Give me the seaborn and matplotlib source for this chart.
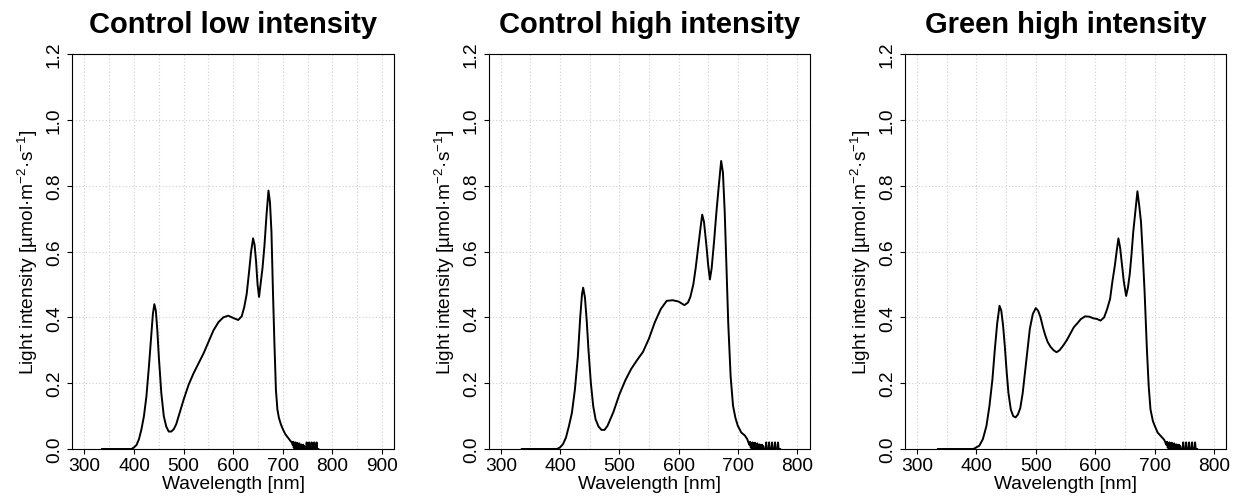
import matplotlib
matplotlib.use("Agg")
import matplotlib.pyplot as plt
from matplotlib.ticker import MultipleLocator
import pandas as pd
import seaborn as sns

# Panel titles and x-limits
TITLES = ["Control low intensity", "Control high intensity", "Green high intensity"]
XLIMS = [(275, 924), (280, 822), (280, 820)]
XTICKS = [list(range(300, 901, 100)), list(range(300, 801, 100)), list(range(300, 801, 100))]

# Spectra (nm, umol m-2 s-1)
CLI_NM = [335, 395, 400, 405, 410, 415, 420, 425, 430, 435, 438, 441, 444, 447, 450,
          455, 460, 465, 470, 475, 480, 485, 490, 500, 510, 520, 530, 540, 550, 560,
          570, 580, 590, 600, 610, 617, 622, 627, 632, 636, 640, 643, 646, 649, 652,
          655, 659, 663, 667, 671, 674, 677, 680, 683, 686, 689, 692, 696, 700, 705,
          710, 715]
CLI_VAL = [0, 0, 0.005, 0.012, 0.03, 0.06, 0.10, 0.16, 0.25, 0.35, 0.41, 0.44, 0.42, 0.36, 0.28,
           0.17, 0.10, 0.068, 0.053, 0.053, 0.06, 0.075, 0.10, 0.15, 0.195, 0.23, 0.26, 0.29, 0.325, 0.36,
           0.385, 0.40, 0.405, 0.398, 0.392, 0.403, 0.43, 0.47, 0.54, 0.60, 0.64, 0.62, 0.57, 0.50, 0.462,
           0.50, 0.55, 0.62, 0.71, 0.785, 0.75, 0.66, 0.48, 0.32, 0.18, 0.12, 0.095, 0.075, 0.06, 0.045,
           0.035, 0.025]

CHI_NM = [335, 395, 400, 405, 410, 415, 420, 425, 430, 434, 437, 439, 442, 445, 448,
          452, 456, 460, 465, 470, 475, 480, 490, 500, 510, 520, 530, 540, 550, 560,
          570, 580, 590, 600, 610, 616, 620, 625, 629, 633, 637, 640, 643, 647, 650,
          653, 656, 660, 664, 668, 672, 675, 678, 681, 684, 688, 692, 696, 700, 706,
          712, 716]
CHI_VAL = [0, 0, 0.005, 0.015, 0.035, 0.07, 0.11, 0.18, 0.28, 0.40, 0.47, 0.49, 0.46, 0.39, 0.30,
           0.20, 0.13, 0.09, 0.068, 0.058, 0.058, 0.07, 0.112, 0.165, 0.208, 0.243, 0.27, 0.295, 0.335, 0.385,
           0.425, 0.45, 0.452, 0.448, 0.437, 0.445, 0.462, 0.50, 0.55, 0.61, 0.67, 0.712, 0.69, 0.62, 0.56,
           0.515, 0.55, 0.63, 0.72, 0.80, 0.875, 0.84, 0.72, 0.55, 0.38, 0.22, 0.132, 0.095, 0.071, 0.05,
           0.041, 0.03]

GHI_NM = [335, 395, 400, 405, 411, 417, 422, 427, 431, 435, 439, 442, 445, 448, 451,
          454, 458, 462, 466, 470, 474, 478, 482, 486, 490, 495, 500, 504, 508, 512,
          516, 520, 525, 530, 535, 540, 546, 552, 558, 564, 570, 576, 583, 590, 597,
          603, 609, 615, 620, 625, 629, 633, 636, 639, 642, 645, 648, 652, 655, 658,
          661, 664, 668, 671, 674, 677, 680, 683, 687, 690, 693, 697, 700, 705, 710,
          716]
GHI_VAL = [0, 0, 0.005, 0.01, 0.03, 0.07, 0.13, 0.21, 0.30, 0.38, 0.435, 0.42, 0.375, 0.31, 0.235,
           0.17, 0.12, 0.10, 0.096, 0.105, 0.125, 0.17, 0.235, 0.30, 0.365, 0.41, 0.428, 0.42, 0.40, 0.37,
           0.345, 0.325, 0.31, 0.30, 0.294, 0.30, 0.314, 0.33, 0.35, 0.37, 0.382, 0.395, 0.403, 0.402, 0.397,
           0.395, 0.39, 0.40, 0.425, 0.456, 0.51, 0.557, 0.60, 0.64, 0.61, 0.56, 0.51, 0.465, 0.49, 0.53,
           0.59, 0.66, 0.73, 0.783, 0.74, 0.69, 0.59, 0.48, 0.30, 0.19, 0.12, 0.085, 0.071, 0.05, 0.04,
           0.028]

# noisy tail of the spectrometer, same look in all three panels
TAIL_NM = [718, 720, 721, 722, 723, 724, 725, 726, 727, 728, 729, 730, 731, 732, 733,
           734, 735, 736, 737, 738, 739, 740, 741, 742, 743, 744, 745, 747, 748, 749,
           752, 753, 754, 757, 758, 759, 762, 763, 764, 767, 768, 769, 772]
TAIL_VAL = [0.02, 0.012, 0.022, 0.004, 0.018, 0.002, 0.02, 0.006, 0.016, 0.0, 0.019, 0.003, 0.015, 0.0, 0.017,
            0.002, 0.012, 0.0, 0.014, 0.0, 0.01, 0.0, 0.013, 0.0, 0.009, 0.0, 0.0, 0.0, 0.02, 0.0,
            0.0, 0.02, 0.0, 0.0, 0.02, 0.0, 0.0, 0.02, 0.0, 0.0, 0.02, 0.0, 0.0]

SPECTRA = [(CLI_NM, CLI_VAL), (CHI_NM, CHI_VAL), (GHI_NM, GHI_VAL)]

sns.set_theme(style="ticks")
plt.rcParams["font.family"] = ["Liberation Sans", "DejaVu Sans"]
plt.rcParams["mathtext.fontset"] = "custom"
plt.rcParams["mathtext.rm"] = "Liberation Sans"
plt.rcParams["mathtext.it"] = "Liberation Sans:italic"
plt.rcParams["mathtext.bf"] = "Liberation Sans:bold"
plt.rcParams["text.color"] = "black"
plt.rcParams["axes.labelcolor"] = "black"

fig = plt.figure(figsize=(12.39, 5.02), dpi=100)
W, H = 1239, 502
lefts = [72, 489, 905]
widths = [322, 321, 321]
top, bottom = 55, 450

for i, (nm, val) in enumerate(SPECTRA):
    ax = fig.add_axes([lefts[i] / W, (H - bottom) / H, widths[i] / W, (bottom - top) / H])
    df = pd.DataFrame({"wavelength": nm + TAIL_NM, "intensity": val + TAIL_VAL})
    sns.lineplot(data=df, x="wavelength", y="intensity", ax=ax, color="black",
                 linewidth=1.4, estimator=None, sort=False)

    ax.set_xlim(*XLIMS[i])
    ax.set_ylim(0, 1.2)
    ax.set_xticks(XTICKS[i])
    ax.xaxis.set_minor_locator(MultipleLocator(50))
    ax.set_yticks([0, 0.2, 0.4, 0.6, 0.8, 1.0, 1.2])
    ax.set_yticklabels([f"{v:.1f}" for v in [0, 0.2, 0.4, 0.6, 0.8, 1.0, 1.2]])

    ax.grid(True, which="both", axis="x", color="#cfcfcf", linestyle=(0, (1, 2)), linewidth=0.8)
    ax.grid(True, which="major", axis="y", color="#cfcfcf", linestyle=(0, (1, 2)), linewidth=0.8)
    ax.set_axisbelow(True)

    for s in ax.spines.values():
        s.set_visible(True)
        s.set_color("black")
        s.set_linewidth(0.8)

    ax.tick_params(axis="both", which="major", length=3.6, width=0.8, color="black",
                   labelsize=13.8, labelcolor="black")
    ax.tick_params(axis="x", which="major", pad=2)
    ax.tick_params(axis="y", which="major", pad=3, labelrotation=90)
    ax.tick_params(axis="x", which="minor", length=0)
    for lab in ax.get_yticklabels():
        lab.set_va("center")

    ax.set_title(TITLES[i], fontsize=21, fontweight="bold", pad=15.8, color="black")
    ax.set_xlabel("Wavelength [nm]", fontsize=13.8, labelpad=1, color="black")
    ax.set_ylabel("Light intensity [µmol·m$^{-2}$·s$^{-1}$]", fontsize=13.8, labelpad=4, color="black")

fig.savefig("out.png", dpi=100)
